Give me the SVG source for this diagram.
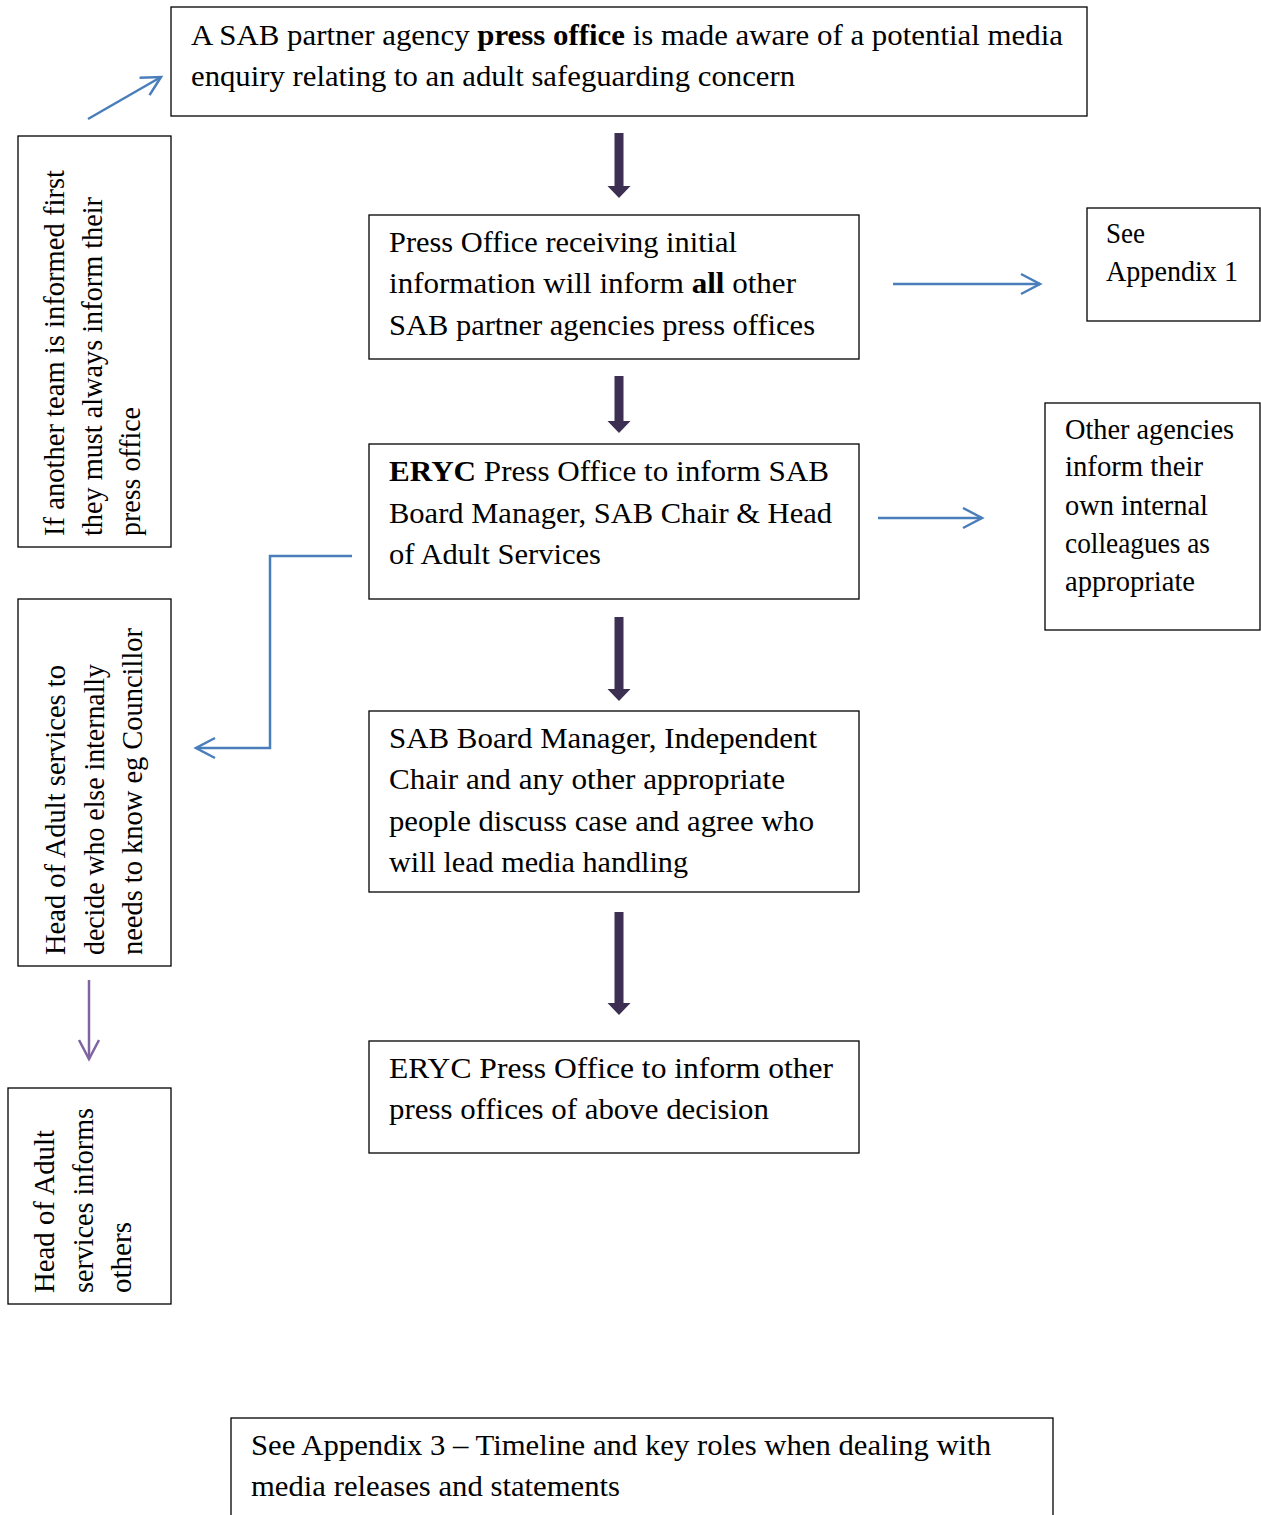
<svg xmlns="http://www.w3.org/2000/svg" width="1261" height="1515" viewBox="0 0 1261 1515">
<defs>
<style>
.box{fill:#fff;stroke:#000;stroke-width:1.3}
.t{font-family:"Liberation Serif","Times New Roman",serif;font-size:29.5px;fill:#000}
.b{font-weight:bold}
.blue{fill:none;stroke:#4a7ebb;stroke-width:2.5}
.dark{fill:#3d2f52}
</style>
<marker id="open" viewBox="0 0 12 12" refX="11" refY="6" markerWidth="12" markerHeight="12" markerUnits="userSpaceOnUse" orient="auto" overflow="visible">
<path d="M-8,-4 L11,6 L-8,16" fill="none" stroke="#4a7ebb" stroke-width="2.5"/>
</marker>
<marker id="openP" viewBox="0 0 12 12" refX="11" refY="6" markerWidth="12" markerHeight="12" markerUnits="userSpaceOnUse" orient="auto" overflow="visible">
<path d="M-8,-4 L11,6 L-8,16" fill="none" stroke="#8064a2" stroke-width="2.5"/>
</marker>
</defs>
<rect width="1261" height="1515" fill="#fff"/>

<g id="connectors">
<path class="blue" d="M88,119 L161,77" marker-end="url(#open)"/>
<path class="blue" d="M893,284 L1040,284" marker-end="url(#open)"/>
<path class="blue" d="M878,518 L982,518" marker-end="url(#open)"/>
<path class="blue" d="M352,556 L270,556 L270,748 L196,748" marker-end="url(#open)"/>
<path d="M89,980 L89,1059" fill="none" stroke="#8064a2" stroke-width="2.5" marker-end="url(#openP)"/>
<path class="dark" d="M614.5,133 h9 v53 h7 l-11.5,12 l-11.5,-12 h7 z"/>
<path class="dark" d="M614.5,376 h9 v45 h7 l-11.5,12 l-11.5,-12 h7 z"/>
<path class="dark" d="M614.5,617 h9 v72 h7 l-11.5,12 l-11.5,-12 h7 z"/>
<path class="dark" d="M614.5,912 h9 v91 h7 l-11.5,12 l-11.5,-12 h7 z"/>
</g>

<g id="n1">
<rect class="box" x="171" y="7" width="916" height="109"/>
<text class="t" x="191" y="45" textLength="872" lengthAdjust="spacingAndGlyphs">A SAB partner agency <tspan class="b">press office</tspan> is made aware of a potential media</text>
<text class="t" x="191" y="86" textLength="604" lengthAdjust="spacingAndGlyphs">enquiry relating to an adult safeguarding concern</text>
</g>
<g id="n2">
<rect class="box" x="369" y="215" width="490" height="144"/>
<text class="t" x="389" y="252" textLength="348" lengthAdjust="spacingAndGlyphs">Press Office receiving initial</text>
<text class="t" x="389" y="293" textLength="407" lengthAdjust="spacingAndGlyphs">information will inform <tspan class="b">all</tspan> other</text>
<text class="t" x="389" y="335" textLength="426" lengthAdjust="spacingAndGlyphs">SAB partner agencies press offices</text>
</g>
<g id="n3">
<rect class="box" x="1087" y="208" width="173" height="113"/>
<text class="t" x="1106" y="243" textLength="39" lengthAdjust="spacingAndGlyphs">See</text>
<text class="t" x="1106" y="281" textLength="132" lengthAdjust="spacingAndGlyphs">Appendix 1</text>
</g>
<g id="n4">
<rect class="box" x="369" y="444" width="490" height="155"/>
<text class="t" x="389" y="481" textLength="440" lengthAdjust="spacingAndGlyphs"><tspan class="b">ERYC</tspan> Press Office to inform SAB</text>
<text class="t" x="389" y="523" textLength="443" lengthAdjust="spacingAndGlyphs">Board Manager, SAB Chair &amp; Head</text>
<text class="t" x="389" y="564" textLength="212" lengthAdjust="spacingAndGlyphs">of Adult Services</text>
</g>
<g id="n5">
<rect class="box" x="1045" y="403" width="215" height="227"/>
<text class="t" x="1065" y="439" textLength="169" lengthAdjust="spacingAndGlyphs">Other agencies</text>
<text class="t" x="1065" y="476" textLength="138" lengthAdjust="spacingAndGlyphs">inform their</text>
<text class="t" x="1065" y="515" textLength="143" lengthAdjust="spacingAndGlyphs">own internal</text>
<text class="t" x="1065" y="553" textLength="145" lengthAdjust="spacingAndGlyphs">colleagues as</text>
<text class="t" x="1065" y="591" textLength="130" lengthAdjust="spacingAndGlyphs">appropriate</text>
</g>
<g id="n6">
<rect class="box" x="369" y="711" width="490" height="181"/>
<text class="t" x="389" y="748" textLength="428" lengthAdjust="spacingAndGlyphs">SAB Board Manager, Independent</text>
<text class="t" x="389" y="789" textLength="396" lengthAdjust="spacingAndGlyphs">Chair and any other appropriate</text>
<text class="t" x="389" y="831" textLength="425" lengthAdjust="spacingAndGlyphs">people discuss case and agree who</text>
<text class="t" x="389" y="872" textLength="299" lengthAdjust="spacingAndGlyphs">will lead media handling</text>
</g>
<g id="n7">
<rect class="box" x="369" y="1041" width="490" height="112"/>
<text class="t" x="389" y="1078" textLength="444" lengthAdjust="spacingAndGlyphs">ERYC Press Office to inform other</text>
<text class="t" x="389" y="1119" textLength="380" lengthAdjust="spacingAndGlyphs">press offices of above decision</text>
</g>
<g id="n8">
<rect class="box" x="231" y="1418" width="822" height="100"/>
<text class="t" x="251" y="1455" textLength="740" lengthAdjust="spacingAndGlyphs">See Appendix 3 – Timeline and key roles when dealing with</text>
<text class="t" x="251" y="1496" textLength="369" lengthAdjust="spacingAndGlyphs">media releases and statements</text>
</g>
<g id="n9">
<rect class="box" x="18" y="136" width="153" height="411"/>
<text class="t" transform="translate(64,536) rotate(-90)" textLength="366" lengthAdjust="spacingAndGlyphs">If another team is informed first</text>
<text class="t" transform="translate(102,536) rotate(-90)" textLength="339" lengthAdjust="spacingAndGlyphs">they must always inform their</text>
<text class="t" transform="translate(140,536) rotate(-90)" textLength="129" lengthAdjust="spacingAndGlyphs">press office</text>
</g>
<g id="n10">
<rect class="box" x="18" y="599" width="153" height="367"/>
<text class="t" transform="translate(65,955) rotate(-90)" textLength="290" lengthAdjust="spacingAndGlyphs">Head of Adult services to</text>
<text class="t" transform="translate(104,955) rotate(-90)" textLength="291" lengthAdjust="spacingAndGlyphs">decide who else internally</text>
<text class="t" transform="translate(142,955) rotate(-90)" textLength="327" lengthAdjust="spacingAndGlyphs">needs to know eg Councillor</text>
</g>
<g id="n11">
<rect class="box" x="8" y="1088" width="163" height="216"/>
<text class="t" transform="translate(54,1293) rotate(-90)" textLength="163" lengthAdjust="spacingAndGlyphs">Head of Adult</text>
<text class="t" transform="translate(93,1293) rotate(-90)" textLength="185" lengthAdjust="spacingAndGlyphs">services informs</text>
<text class="t" transform="translate(131,1293) rotate(-90)" textLength="71" lengthAdjust="spacingAndGlyphs">others</text>
</g>
</svg>
